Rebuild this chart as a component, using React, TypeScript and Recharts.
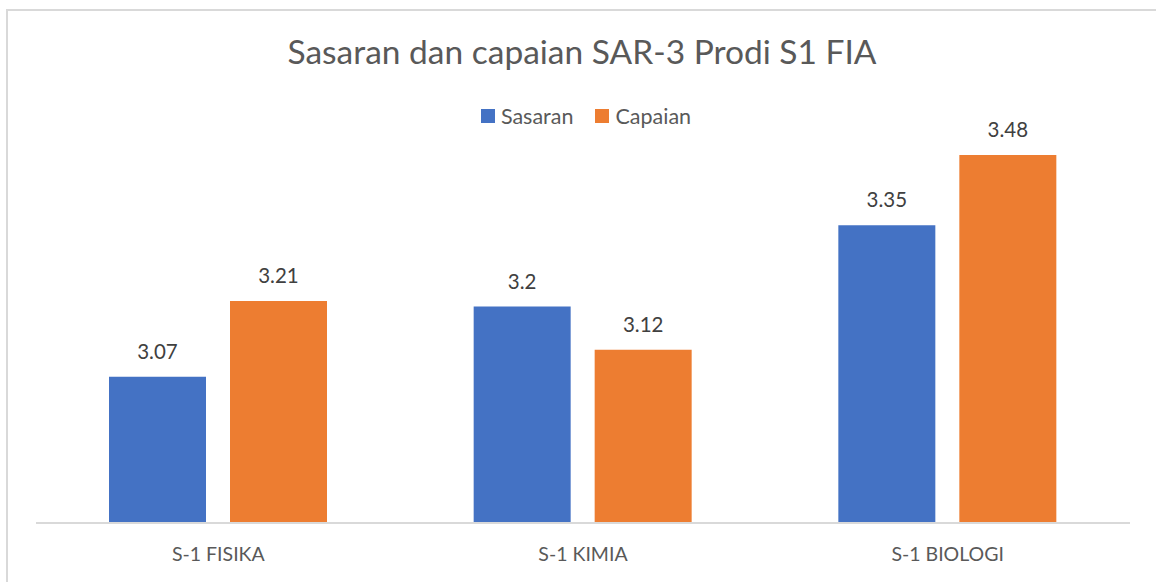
import { BarChart, Bar, XAxis, YAxis, LabelList } from "recharts";

const categories = ["S-1 FISIKA", "S-1 KIMIA", "S-1 BIOLOGI"];
const sasaran = [3.07, 3.2, 3.35];
const capaian = [3.21, 3.12, 3.48];
const seriesNames = ["Sasaran", "Capaian"];
const colors = ["#4472C4", "#ED7D31"];

const data = categories.map((name, i) => ({
  name,
  sasaran: sasaran[i],
  capaian: capaian[i],
}));

const FONT = "Lato, 'Open Sans', sans-serif";

function LegendBox() {
  return (
    <div
      style={{
        display: "flex",
        justifyContent: "center",
        gap: 22,
        fontFamily: FONT,
        fontSize: 21.5,
        color: "#595959",
      }}
    >
      {seriesNames.map((n, i) => (
        <div key={n} style={{ display: "flex", alignItems: "center", gap: 6 }}>
          <span style={{ width: 14, height: 14, background: colors[i], display: "inline-block" }} />
          <span>{n}</span>
        </div>
      ))}
    </div>
  );
}

export default function App() {
  return (
    <div style={{ position: "absolute", left: 0, top: 0, width: 1156, height: 582, background: "#fff" }}>
      <div
        style={{
          position: "absolute",
          left: 6,
          top: 9,
          width: 1160,
          height: 590,
          border: "2px solid #d9d9d9",
          boxSizing: "border-box",
        }}
      />
      <div
        style={{
          position: "absolute",
          left: 4,
          top: 31,
          width: 1156,
          textAlign: "center",
          fontFamily: FONT,
          fontSize: 33.5,
          color: "#595959",
        }}
      >
        Sasaran dan capaian SAR-3 Prodi S1 FIA
      </div>
      <div style={{ position: "absolute", left: 8, top: 103, width: 1156 }}>
        <LegendBox />
      </div>
      <div style={{ position: "absolute", left: 0, top: 0 }}>
        <BarChart
          width={1156}
          height={582}
          data={data}
          margin={{ top: 90, left: 36, right: 26, bottom: 29 }}
          barSize={97}
          barGap={24}
        >
          <XAxis
            dataKey="name"
            height={30}
            axisLine={{ stroke: "#d9d9d9", strokeWidth: 2 }}
            tickLine={false}
            tick={{ fill: "#595959", fontSize: 19.5, fontFamily: FONT }}
            tickMargin={18}
          />
          <YAxis hide domain={[2.8, 3.6]} />
          <Bar dataKey="sasaran" name={seriesNames[0]} fill={colors[0]} isAnimationActive={false}>
            <LabelList
              dataKey="sasaran"
              position="top"
              offset={18}
              style={{ fill: "#404040", fontSize: 20.5, fontFamily: FONT }}
            />
          </Bar>
          <Bar dataKey="capaian" name={seriesNames[1]} fill={colors[1]} isAnimationActive={false}>
            <LabelList
              dataKey="capaian"
              position="top"
              offset={18}
              style={{ fill: "#404040", fontSize: 20.5, fontFamily: FONT }}
            />
          </Bar>
        </BarChart>
      </div>
    </div>
  );
}
